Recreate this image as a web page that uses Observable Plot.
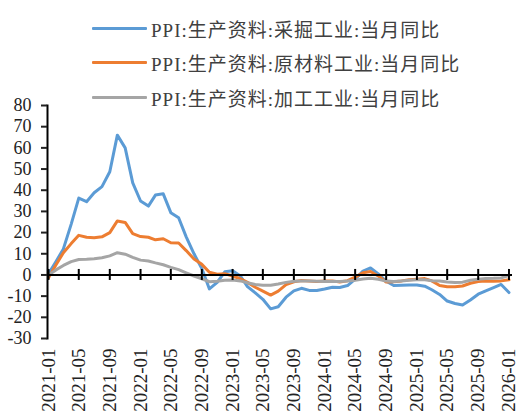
<!DOCTYPE html>
<html>
<head>
<meta charset="utf-8">
<script src="https://cdn.jsdelivr.net/npm/d3@7"></script>
<script src="https://cdn.jsdelivr.net/npm/@observablehq/plot@0.6"></script>
<style>
  body { margin: 0; background: #fff; }
  #wrap { position: relative; width: 519px; height: 417px; overflow: hidden; }
  #legend { position: absolute; left: 0; top: 0; width: 519px; height: 110px; z-index: 2; }
  .row { position: absolute; left: 92px; height: 24px; display: flex; align-items: center; }
  .sw { width: 55px; height: 3px; border-radius: 1px; margin-right: 4px; }
  .lbl { font-family: "Liberation Serif", "Times New Roman", "Noto Sans CJK SC", serif; font-size: 19px; letter-spacing: 1px; color: #404040; white-space: nowrap; }
  #chart { position: absolute; left: 0; top: 0; }
</style>
</head>
<body>
<div id="wrap">
  <div id="legend"></div>
  <div id="chart"></div>
</div>
<script>
// Series names
const seriesNames = [
  "PPI:生产资料:采掘工业:当月同比",
  "PPI:生产资料:原材料工业:当月同比",
  "PPI:生产资料:加工工业:当月同比"
];
const seriesColors = ["#5B9BD5", "#ED7D31", "#A5A5A5"];

// Months: 2021-01 .. 2026-01 (61 monthly points)
const startMonth = "2021-01";
const endMonth = "2026-01";

// Values (%)
const mining = [0.5, 6.6, 12.3, 24, 36.3, 34.6, 38.8, 41.7, 48.7, 66,
  60, 43.5, 34.9, 32.5, 37.7, 38.3, 29.4, 27, 18, 10,
  3, -6.6, -3.5, 1.5, 2, -0.5, -5.5, -8.5, -11.5, -16,
  -15, -10.5, -7.5, -6.3, -7.3, -7.3, -6.6, -5.8, -5.9, -5,
  -2, 1.8, 3.3, 0.5, -3, -5, -4.9, -4.8, -4.7, -5.3,
  -7, -9.2, -12.3, -13.5, -14.2, -11.8, -9.1, -7.5, -6, -4.5,
  -8.3];
const rawMaterial = [-1.3, 5, 10.5, 14.8, 18.7, 17.8, 17.6, 18, 20, 25.5,
  24.8, 19.5, 18.1, 17.8, 16.6, 17.1, 15.2, 15.1, 11.5, 7.5,
  5, 1.3, 0.3, 0.6, -0.5, -1.8, -3.5, -5.8, -7.6, -9.5,
  -7.6, -4.6, -3.2, -2.6, -2.8, -3.1, -2.8, -2.8, -3.3, -2.7,
  -1, 1, 1.6, -0.5, -3.3, -3.2, -2.8, -2.3, -2, -1.7,
  -2.8, -5, -5.6, -5.6, -5.2, -3.9, -3.1, -2.8, -3.0, -2.8,
  -2.3];
const processing = [0, 2.5, 4.5, 6.3, 7.3, 7.4, 7.6, 8.1, 9, 10.5,
  9.8, 8.3, 7, 6.6, 5.7, 4.8, 3.6, 2.5, 1, -0.5,
  -1.8, -3.2, -3, -2.5, -2.4, -2.8, -3.7, -4.5, -4.9, -4.9,
  -4.3, -3.5, -3, -2.8, -2.9, -3, -3.1, -3.1, -3.1, -2.9,
  -2.5, -1.9, -1.6, -2, -2.9, -3.1, -2.8, -2.5, -2.3, -2.3,
  -2.7, -2.9, -3.3, -3.6, -3.4, -2.5, -2, -1.7, -1.6, -1.4,
  -0.3];

// Axis tick labels
const xTickLabels = ["2021-01","2021-05","2021-09","2022-01","2022-05","2022-09","2023-01","2023-05",
  "2023-09","2024-01","2024-05","2024-09","2025-01","2025-05","2025-09","2026-01"];
const yTicks = [-30, -20, -10, 0, 10, 20, 30, 40, 50, 60, 70, 80];

const parse = d3.utcParse("%Y-%m");
const months = d3.utcMonth.range(parse(startMonth), d3.utcMonth.offset(parse(endMonth), 1));
const seriesValues = [mining, rawMaterial, processing];
const data = [];
seriesValues.forEach((vals, s) => {
  vals.forEach((v, i) => data.push({date: months[i], value: v, series: seriesNames[s]}));
});
const tickDates = xTickLabels.map(parse);

// Legend
const legend = document.getElementById("legend");
const rowTops = [16, 50, 85];
seriesNames.forEach((n, i) => {
  const r = document.createElement("div");
  r.className = "row";
  r.style.top = rowTops[i] + "px";
  r.innerHTML = `<div class="sw" style="background:${seriesColors[i]}"></div><span class="lbl">${n}</span>`;
  legend.appendChild(r);
});

const xDomain = [d3.utcDay.offset(parse(startMonth), -4), d3.utcDay.offset(parse(endMonth), 14)];

const plot = Plot.plot({
  width: 519,
  height: 417,
  marginTop: 105,
  marginBottom: 79,
  marginLeft: 47,
  marginRight: 7,
  style: {fontFamily: "'Liberation Serif', 'Times New Roman', serif", fontSize: "18px", color: "#222", background: "transparent"},
  x: {type: "utc", domain: xDomain},
  y: {domain: [-30, 80]},
  color: {domain: seriesNames, range: seriesColors},
  marks: [
    Plot.line(data, {x: "date", y: "value", z: "series", stroke: "series", strokeWidth: 3, strokeLinejoin: "round", strokeLinecap: "round"}),
    Plot.ruleY([0], {stroke: "#000", strokeWidth: 2}),
    Plot.ruleX(tickDates, {y1: -2.6, y2: 2.6, stroke: "#000", strokeWidth: 2}),
    Plot.frame({anchor: "left", stroke: "#000", strokeWidth: 2}),
    Plot.axisY({ticks: yTicks, tickSize: 6, tickPadding: 10, strokeWidth: 2, tickFormat: d => String(d), fontSize: 18, label: null}),
    Plot.axisX({ticks: tickDates, tickFormat: d3.utcFormat("%Y-%m"), tickRotate: -90, tickSize: 0, tickPadding: 10, fontSize: 19, label: null})
  ]
});
document.getElementById("chart").appendChild(plot);
</script>
</body>
</html>
